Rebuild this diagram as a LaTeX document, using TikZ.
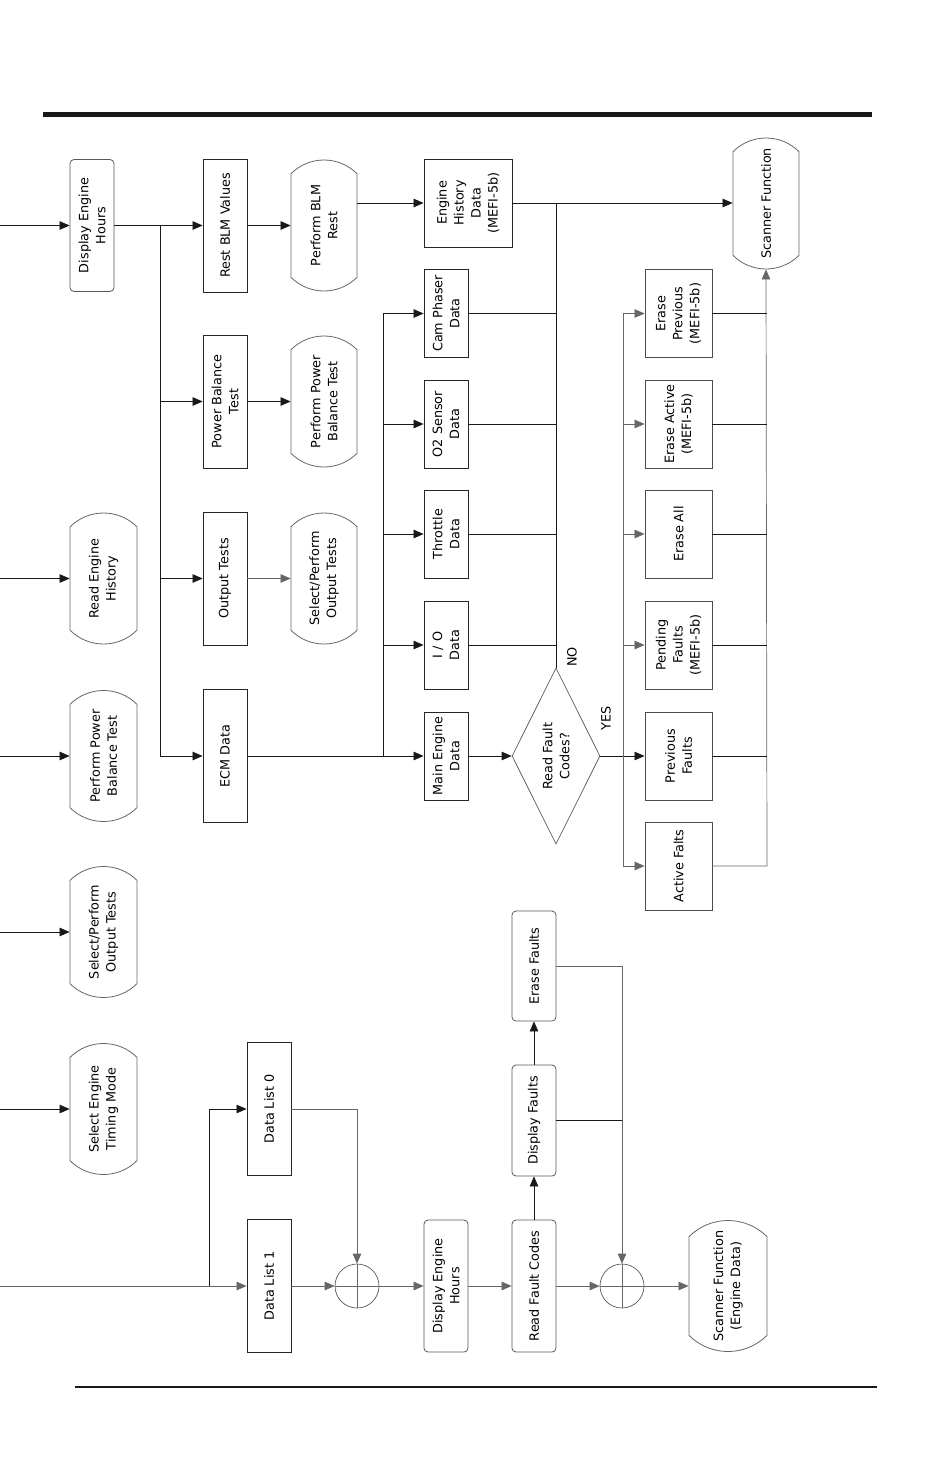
\documentclass[tikz,border=0pt]{standalone}
\usepackage{fontspec}
\setmainfont{DejaVu Sans}
\usetikzlibrary{shapes.geometric,shapes.misc,arrows.meta}
\begin{document}
\begin{tikzpicture}[x=1pt,y=-1pt,
  every node/.style={font=\fontsize{12.8}{17}\selectfont, align=center, inner sep=1pt},
  rbox/.style={draw=black!85, line width=0.8pt, rectangle, rotate=90, minimum width=#1, minimum height=44},
  rbox/.default=133,
  rrbox/.style={rbox=#1, draw=black!65, rounded corners=4pt},
  rrbox/.default=133,
  term/.style={draw=black!60, line width=0.8pt, rounded rectangle, rounded rectangle arc length=90, rotate=90, minimum width=133, minimum height=#1},
  term/.default=66,
  gbox/.style={draw=black!70, line width=0.8pt, rectangle, rotate=90, minimum width=88, minimum height=67},
  sbox/.style={draw=black!85, line width=0.8pt, rectangle, rotate=90, minimum width=88, minimum height=44},
  ln/.style={draw=black!90, line width=0.7pt},
  gl/.style={draw=black!60, line width=0.7pt},
  arr/.style={ln, -{Triangle[length=10pt,width=8.5pt]}},
  garr/.style={gl, -{Triangle[length=10pt,width=8.5pt]}},
  sum/.style={draw=black!65, line width=0.7pt, circle, minimum size=44, inner sep=0pt},
  lab/.style={rotate=90, font=\fontsize{12.8}{14}\selectfont}
]
\useasboundingbox (0,0) rectangle (950,1468);
% page rules
\draw[line width=5pt, black!90] (43,114.5) -- (872,114.5);
\draw[line width=1.8pt, black!90] (75,1387) -- (877,1387);

% column 1
\node[rrbox=132] (deh1) at (92,225.5) {Display Engine\\Hours};
\node[term=67] (reh) at (103.5,578.5) {Read Engine\\History};
\node[term=67] (ppbt1) at (103.5,756) {Perform Power\\Balance Test};
\node[term=67] (spot1) at (103.5,932) {Select/Perform\\Output Tests};
\node[term=67] (setm) at (103.5,1109) {Select Engine\\Timing Mode};

\coordinate (i0) at (0,225.5);
\coordinate (i1) at (0,578.5);
\coordinate (i2) at (0,756);
\coordinate (i3) at (0,932);
\coordinate (i4) at (0,1109);
\coordinate (i5) at (0,1286);
\draw[arr] (i0) -- (deh1.north);
\draw[arr] (i1) -- (reh.north);
\draw[arr] (i2) -- (ppbt1.north);
\draw[arr] (i3) -- (spot1.north);
\draw[arr] (i4) -- (setm.north);

% column 2
\node[rbox] (rbv) at (225,225.5) {Rest BLM Values};
\node[rbox] (pbt) at (225,401.5) {Power Balance\\Test};
\node[rbox] (ot) at (225,578.5) {Output Tests};
\node[rbox] (ecm) at (225,756) {ECM Data};
\node[rbox] (dl0) at (269,1109) {Data List 0};
\node[rbox] (dl1) at (269,1286) {Data List 1};

\coordinate (t) at (160,225.5);
\draw[arr] (deh1.south) -- (rbv.north);
\draw[arr] (t) |- (ecm.north);
\draw[arr] (t |- pbt.north) -- (pbt.north);
\draw[arr] (t |- ot.north) -- (ot.north);

% column 3
\node[term] (pblm) at (324,225.5) {Perform BLM\\Rest};
\node[term] (ppbt2) at (324,401.5) {Perform Power\\Balance Test};
\node[term] (spot2) at (324,578.5) {Select/Perform\\Output Tests};
\draw[arr] (rbv.south) -- (pblm.north);
\draw[arr] (pbt.south) -- (ppbt2.north);
\draw[garr] (ot.south) -- (spot2.north);

% column 4
\node[draw=black!85, line width=0.8pt, rectangle, rotate=90, minimum width=88, minimum height=88] (ehd) at (468,203) {Engine\\History\\Data\\(MEFI-5b)};
\node[sbox] (cpd) at (446,313.5) {Cam Phaser\\Data};
\node[sbox] (o2) at (446,424) {O2 Sensor\\Data};
\node[sbox] (thr) at (446,534) {Throttle\\Data};
\node[sbox] (io) at (446,645) {I / O\\Data};
\node[sbox] (med) at (446,756) {Main Engine\\Data};
\draw[arr] (pblm.south |- ehd.north) -- (ehd.north);

\coordinate (b1) at (383,313.5);
\draw[arr] (ecm.south) -- (med.north);
\draw[arr] (b1 |- med.north) -- (b1) -- (cpd.north);
\draw[arr] (b1 |- o2.north) -- (o2.north);
\draw[arr] (b1 |- thr.north) -- (thr.north);
\draw[arr] (b1 |- io.north) -- (io.north);

% decision
\node[draw=black!65, line width=0.7pt, diamond, shape aspect=2, rotate=90, minimum width=176, minimum height=88, inner sep=0pt] (dia) at (556,756) {Read Fault\\Codes?};
\draw[arr] (med.south) -- (dia.north);
\coordinate (nj) at (556,203);
\draw[ln] (dia.east) -- (nj);
\draw[ln] (cpd.south) -- (cpd.south -| nj);
\draw[ln] (o2.south) -- (o2.south -| nj);
\draw[ln] (thr.south) -- (thr.south -| nj);
\draw[ln] (io.south) -- (io.south -| nj);
\node[lab] (no) at (572,657) {NO};
\node[lab] (yes) at (606,718) {YES};

% scanner function
\node[term] (sf) at (766,203.5) {Scanner Function};
\draw[arr] (ehd.south) -- (sf.north |- ehd.south);

% fault column
\node[gbox] (ep) at (678.5,313.5) {Erase\\Previous\\(MEFI-5b)};
\node[gbox] (ea) at (678.5,424) {Erase Active\\(MEFI-5b)};
\node[gbox] (eall) at (678.5,534) {Erase All};
\node[gbox] (pf) at (678.5,645) {Pending\\Faults\\(MEFI-5b)};
\node[gbox] (prf) at (678.5,756) {Previous\\Faults};
\node[gbox] (af) at (678.5,866) {Active Falts};

\coordinate (b2) at (623,313.5);
\draw[arr] (dia.south) -- (prf.north);
\draw[garr] (b2 |- af.north) -- (af.north);
\draw[garr] (b2 |- af.north) -- (b2) -- (ep.north);
\draw[garr] (b2 |- ea.north) -- (ea.north);
\draw[garr] (b2 |- eall.north) -- (eall.north);
\draw[garr] (b2 |- pf.north) -- (pf.north);

\coordinate (b3) at (767,866);
\draw[garr] (af.south) -- (b3) -- (sf.west);
\draw[ln] (ep.south) -- (ep.south -| b3);
\draw[ln] (ea.south) -- (ea.south -| b3);
\draw[ln] (eall.south) -- (eall.south -| b3);
\draw[ln] (pf.south) -- (pf.south -| b3);
\draw[ln] (prf.south) -- (prf.south -| b3);

% bottom chain
\coordinate (br) at (209,1286);
\draw[garr] (i5) -- (dl1.north);
\draw[arr] (br) |- (dl0.north);

\node[sum] (c1) at (357,1286) {};
\draw[gl] (c1.north) -- (c1.south);
\draw[gl] (c1.west) -- (c1.east);
\draw[garr] (dl1.south) -- (c1.west);
\draw[garr] (dl0.south) -| (c1.north);

\node[rrbox=132] (deh2) at (446,1286) {Display Engine\\Hours};
\node[rrbox=132] (rfc) at (534,1286) {Read Fault Codes};
\node[rrbox=111] (df) at (534,1120.5) {Display Faults};
\node[rrbox=110] (ef) at (534,966) {Erase Faults};
\node[sum] (c2) at (622,1286) {};
\draw[gl] (c2.north) -- (c2.south);
\draw[gl] (c2.west) -- (c2.east);
\node[term=78] (sfe) at (728,1286) {Scanner Function\\(Engine Data)};

\draw[garr] (c1.east) -- (deh2.north);
\draw[garr] (deh2.south) -- (rfc.north);
\draw[garr] (rfc.south) -- (c2.west);
\draw[garr] (c2.east) -- (sfe.north);
\draw[arr] (rfc.east) -- (df.west);
\draw[arr] (df.east) -- (ef.west);
\draw[garr] (ef.south) -| (c2.north);
\draw[ln] (df.south) -- (df.south -| c2.north);
\end{tikzpicture}
\end{document}
